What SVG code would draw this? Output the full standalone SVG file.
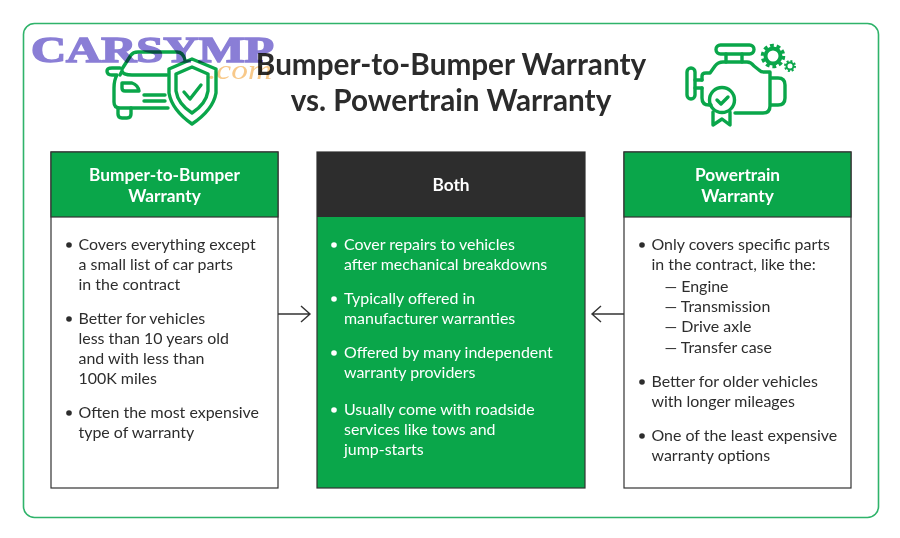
<svg xmlns="http://www.w3.org/2000/svg" width="900" height="538" viewBox="0 0 900 538">
<style>
text{font-family:Lato,"Liberation Sans",sans-serif}
.t{font-size:29.700px;font-weight:700;fill:#2b2b2b;text-anchor:middle}
.h{font-size:17.300px;font-weight:700;fill:#fff;text-anchor:middle}
.b{font-size:15.950px;fill:#2d2d2d}
.w{font-size:15.950px;fill:#fff}
.box{fill:#fff;stroke:#333;stroke-width:1.2}
.ic{fill:none;stroke:#0aa64a;stroke-width:3.400;stroke-linecap:round;stroke-linejoin:round}
.ar{fill:none;stroke:#333;stroke-width:1.4}
.wm{font-family:"Liberation Serif",serif;font-weight:700;font-size:36px;fill:#8a7ed6;stroke:#8a7ed6;stroke-width:1.500}
.wc{font-family:"Liberation Serif",serif;font-style:italic;font-size:27px;fill:#f8c98a}
#watermark{mix-blend-mode:multiply}
</style>
<rect width="900" height="538" fill="#fff"/>
<rect x="23.500" y="23.500" width="855" height="494" rx="11" fill="none" stroke="#2fb36a" stroke-width="1.600"/>
<g id="title">
<text class="t" x="451" y="74.500">Bumper-to-Bumper Warranty</text>
<text class="t" x="451" y="110.500">vs. Powertrain Warranty</text>
</g>
<g id="car-icon" class="ic">
<path d="M122 69L131 55Q133 52 138 52H177Q183 52 185 60"/>
<path d="M120 68H112Q107 68 107 71Q107 75 112 75H117Q114 80 114 88V102Q114 108 120 108H168"/>
<path d="M120 75L122 71Q123 75 132 75H167"/>
<path d="M118 108V114Q118 118 122 118H127Q131 118 131 114V108"/>
<path d="M122 83H132Q138 85 139 91H125Q122 91 122 88Z"/>
<path d="M144 95H165M144 101H165"/>
<path d="M192 59L216 69V93Q213 110 192 124Q172 110 169 93V69Z"/>
<path d="M192 67L208 74V91Q206 104 192 113Q178 104 176 91V74Z"/>
<path d="M184 92L190 99L201 85"/>
</g>
<g id="engine-icon" class="ic">
<rect x="716" y="45" width="38" height="9" rx="4.500"/>
<path d="M726 54V62M742 54V62"/>
<path d="M702 88V98Q702 105 709 105H711M702 80V76Q702 73 706 73H710L715 66Q718 62 723 62H747Q751 62 754 66L759 70Q761 72 764 72H770V106Q770 113 763 113H735"/>
<rect x="687" y="68" width="8" height="31" rx="4"/>
<path d="M695 80H702M695 88H702"/>
<path d="M771 78H778Q785 78 785 85V98Q785 105 778 105H771"/>
<circle cx="722" cy="100" r="12.500"/>
<path d="M717 100L721 104L728 97"/>
<path d="M713 112V125L722 119L730 125V112"/>
<circle cx="773" cy="56" r="7.500" stroke-width="4"/>
<circle cx="773" cy="56" r="10.500" stroke-width="3.500" stroke-dasharray="3.800 2.800" stroke-linecap="butt"/>
<circle cx="790" cy="66" r="3.500" stroke-width="2"/>
<circle cx="790" cy="66" r="5" stroke-width="2" stroke-dasharray="2 1.900" stroke-linecap="butt"/>
</g>
<g id="left-box">
<rect class="box" x="51" y="152" width="227" height="336"/>
<rect x="51" y="152" width="227" height="65" fill="#0aa64a" stroke="#333" stroke-width="1.200"/>
<text class="h" x="164.500" y="180.500">Bumper-to-Bumper</text>
<text class="h" x="164.500" y="201.500">Warranty</text>
<circle cx="69" cy="245" r="2.800" fill="#2d2d2d"/>
<text class="b" x="78.500" y="249.500">Covers everything except</text>
<text class="b" x="78.500" y="269.500">a small list of car parts</text>
<text class="b" x="78.500" y="289.500">in the contract</text>
<circle cx="69" cy="319" r="2.800" fill="#2d2d2d"/>
<text class="b" x="78.500" y="323.500">Better for vehicles</text>
<text class="b" x="78.500" y="343.500">less than 10 years old</text>
<text class="b" x="78.500" y="363.500">and with less than</text>
<text class="b" x="78.500" y="383.500">100K miles</text>
<circle cx="69" cy="413" r="2.800" fill="#2d2d2d"/>
<text class="b" x="78.500" y="417.500">Often the most expensive</text>
<text class="b" x="78.500" y="437.500">type of warranty</text>
</g>
<g id="both-box">
<rect x="317" y="152" width="268" height="336" fill="#0aa64a" stroke="#333" stroke-width="1.200"/>
<rect x="317" y="152" width="268" height="65" fill="#2d2d2d"/>
<text class="h" x="451" y="191">Both</text>
<circle cx="334" cy="245" r="2.800" fill="#fff"/>
<text class="w" x="344" y="249.500">Cover repairs to vehicles</text>
<text class="w" x="344" y="269.500">after mechanical breakdowns</text>
<circle cx="334" cy="299" r="2.800" fill="#fff"/>
<text class="w" x="344" y="303.500">Typically offered in</text>
<text class="w" x="344" y="323.500">manufacturer warranties</text>
<circle cx="334" cy="353" r="2.800" fill="#fff"/>
<text class="w" x="344" y="357.500">Offered by many independent</text>
<text class="w" x="344" y="377.500">warranty providers</text>
<circle cx="334" cy="410" r="2.800" fill="#fff"/>
<text class="w" x="344" y="414.500">Usually come with roadside</text>
<text class="w" x="344" y="434.500">services like tows and</text>
<text class="w" x="344" y="454.500">jump-starts</text>
</g>
<g id="right-box">
<rect class="box" x="624" y="152" width="227" height="336"/>
<rect x="624" y="152" width="227" height="65" fill="#0aa64a" stroke="#333" stroke-width="1.200"/>
<text class="h" x="737.500" y="180.500">Powertrain</text>
<text class="h" x="737.500" y="201.500">Warranty</text>
<circle cx="642" cy="245" r="2.800" fill="#2d2d2d"/>
<text class="b" x="651.500" y="249.500">Only covers specific parts</text>
<text class="b" x="651.500" y="269.500">in the contract, like the:</text>
<text class="b" x="664.500" y="291.500">— Engine</text>
<text class="b" x="664.500" y="312">— Transmission</text>
<text class="b" x="664.500" y="332">— Drive axle</text>
<text class="b" x="664.500" y="352.500">— Transfer case</text>
<circle cx="642" cy="382" r="2.800" fill="#2d2d2d"/>
<text class="b" x="651.500" y="386.500">Better for older vehicles</text>
<text class="b" x="651.500" y="406.500">with longer mileages</text>
<circle cx="642" cy="436" r="2.800" fill="#2d2d2d"/>
<text class="b" x="651.500" y="440.500">One of the least expensive</text>
<text class="b" x="651.500" y="460.500">warranty options</text>
</g>
<g id="connectors">
<path class="ar" d="M278 314H310M301 306L310 314L301 322"/>
<path class="ar" d="M624 314H592M601 306L592 314L601 322"/>
</g>
<g id="watermark">
<text class="wm" x="31" y="62" textLength="243" lengthAdjust="spacingAndGlyphs">CARSYMP</text>
<text class="wc" x="208" y="79" textLength="64" lengthAdjust="spacingAndGlyphs">.com</text>
</g>
</svg>
